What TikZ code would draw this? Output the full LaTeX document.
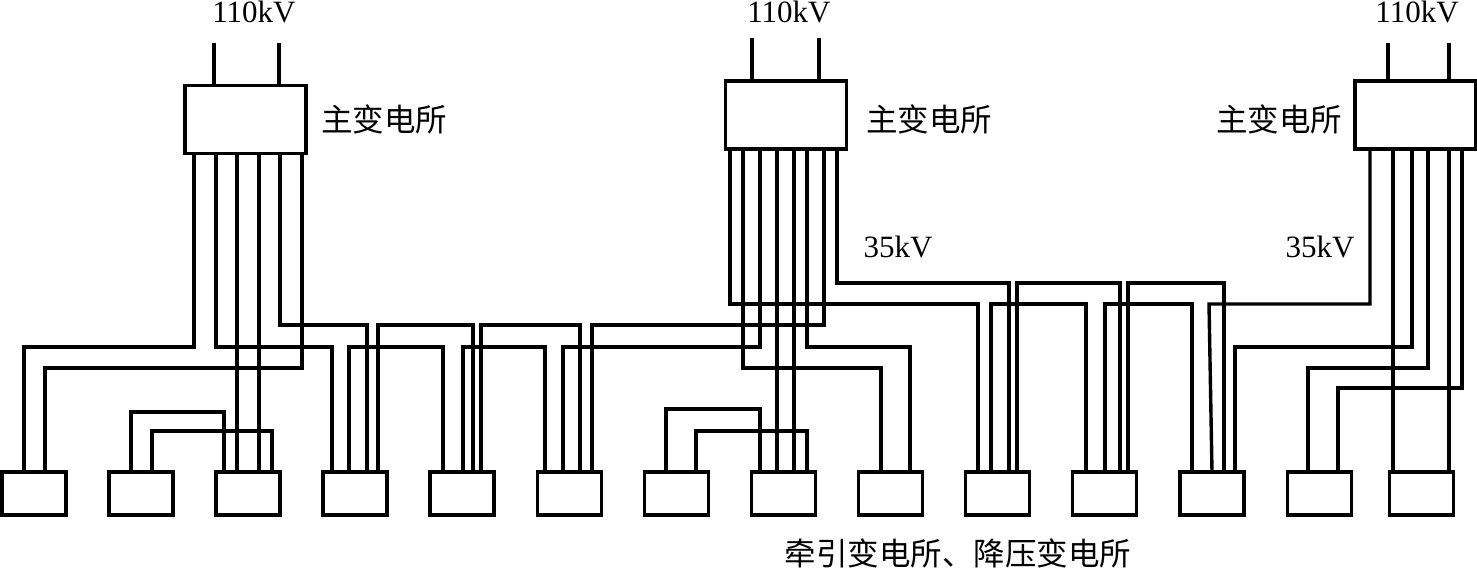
\documentclass[tikz,border=0pt]{standalone}
\usepackage{fontspec}
\setmainfont{Liberation Serif}
\newfontfamily\cjk{Noto Sans CJK SC}
\tikzset{
  wire/.style={draw=black,line width=3.4pt,line join=miter},
  subst/.style={draw=black,line width=3.4pt,inner sep=0pt,outer sep=0pt,minimum width=64pt,minimum height=43pt},
  mainst/.style={draw=black,line width=3.4pt,inner sep=0pt,outer sep=0pt,minimum width=121pt,minimum height=68pt},
  latin/.style={inner sep=0pt,font=\fontsize{31}{32}\selectfont},
  cjklabel/.style={inner sep=0pt,font=\cjk\fontsize{31.5}{32}\selectfont}
}
\begin{document}
\begin{tikzpicture}[x=1pt,y=-1pt]
\useasboundingbox (0,0) rectangle (1477,568);
\fill[white] (0,0) rectangle (1477,568);
% main substations
\node[mainst] (m1) at (245.5,119.5) {};
\node[mainst] (m2) at (786,115) {};
\node[mainst] (m3) at (1415.5,115) {};
% traction substations
\node[subst] (b1) at (34,493.5) {};
\node[subst] (b2) at (141,493.5) {};
\node[subst] (b3) at (248,493.5) {};
\node[subst] (b4) at (355,493.5) {};
\node[subst] (b5) at (462,493.5) {};
\node[subst] (b6) at (569.5,493.5) {};
\node[subst] (b7) at (676.5,493.5) {};
\node[subst] (b8) at (783.5,493.5) {};
\node[subst] (b9) at (890.5,493.5) {};
\node[subst] (b10) at (997.5,493.5) {};
\node[subst] (b11) at (1104.5,493.5) {};
\node[subst] (b12) at (1212,493.5) {};
\node[subst] (b13) at (1319.5,493.5) {};
\node[subst] (b14) at (1421.5,493.5) {};
% labels
\node[latin,anchor=base] (v1) at (254,22.5) {110kV};
\node[latin,anchor=base] (v2) at (789,22.5) {110kV};
\node[latin,anchor=base] (v3) at (1417,22.5) {110kV};
\node[latin] (k1) at (898,247) {35kV};
\node[latin] (k2) at (1320,247) {35kV};
\node[cjklabel] (t1) at (384,119) {主变电所};
\node[cjklabel] (t2) at (929,119) {主变电所};
\node[cjklabel] (t3) at (1279,119) {主变电所};
\node[cjklabel] (t4) at (958,553) {牵引变电所、降压变电所};
% incoming 110 kV lines
\coordinate (i1a) at (214,43); \coordinate (i1b) at (279,43);
\coordinate (i2a) at (752,38); \coordinate (i2b) at (819,38);
\coordinate (i3a) at (1388,43); \coordinate (i3b) at (1449,43);
\draw[wire] (i1a) -- (m1.north -| i1a);
\draw[wire] (i1b) -- (m1.north -| i1b);
\draw[wire] (i2a) -- (m2.north -| i2a);
\draw[wire] (i2b) -- (m2.north -| i2b);
\draw[wire] (i3a) -- (m3.north -| i3a);
\draw[wire] (i3b) -- (m3.north -| i3b);
% main substation 1
\draw[wire] (m1.south -| 194,0) -- (194,347) -- (24,347) -- (b1.north -| 24,0);
\draw[wire] (m1.south -| 216,0) -- (216,347) -- (332,347) -- (b4.north -| 332,0);
\draw[wire] (m1.south -| 237,0) -- (b3.north -| 237,0);
\draw[wire] (m1.south -| 259,0) -- (b3.north -| 259,0);
\draw[wire] (m1.south -| 280,0) -- (280,325) -- (367,325) -- (b4.north -| 367,0);
\draw[wire] (m1.south -| 302,0) -- (302,368) -- (45,368) -- (b1.north -| 45,0);
% between traction substations
\draw[wire] (b2.north -| 131,0) -- (131,412) -- (224,412) -- (b3.north -| 224,0);
\draw[wire] (b2.north -| 152,0) -- (152,431) -- (272,431) -- (b3.north -| 272,0);
\draw[wire] (b4.north -| 349,0) -- (349,347) -- (443,347) -- (b5.north -| 443,0);
\draw[wire] (b4.north -| 378,0) -- (378,325) -- (473,325) -- (b5.north -| 473,0);
\draw[wire] (b5.north -| 463,0) -- (463,347) -- (545,347) -- (b6.north -| 545,0);
\draw[wire] (b5.north -| 481,0) -- (481,325) -- (580,325) -- (b6.north -| 580,0);
\draw[wire] (b7.north -| 666,0) -- (666,409) -- (760,409) -- (b8.north -| 760,0);
\draw[wire] (b7.north -| 696,0) -- (696,431) -- (807,431) -- (b8.north -| 807,0);
% main substation 2
\draw[wire] (m2.south -| 730,0) -- (730,304) -- (978,304) -- (b10.north -| 978,0);
\draw[wire] (m2.south -| 743,0) -- (743,368) -- (881,368) -- (b9.north -| 881,0);
\draw[wire] (m2.south -| 760,0) -- (760,347) -- (563,347) -- (b6.north -| 563,0);
\draw[wire] (m2.south -| 777,0) -- (b8.north -| 777,0);
\draw[wire] (m2.south -| 794,0) -- (b8.north -| 794,0);
\draw[wire] (m2.south -| 807,0) -- (807,347) -- (910,347) -- (b9.north -| 910,0);
\draw[wire] (m2.south -| 824,0) -- (824,325) -- (592,325) -- (b6.north -| 592,0);
\draw[wire] (m2.south -| 837,0) -- (837,283) -- (1009,283) -- (b10.north -| 1009,0);
% right-hand chain
\draw[wire] (b10.north -| 991,0) -- (991,304) -- (1086,304) -- (b11.north -| 1086,0);
\draw[wire] (b10.north -| 1017,0) -- (1017,283) -- (1120,283) -- (b11.north -| 1120,0);
\draw[wire] (b11.north -| 1105,0) -- (1105,304) -- (1192,304) -- (b12.north -| 1192,0);
\draw[wire] (b11.north -| 1128,0) -- (1128,283) -- (1224,283) -- (b12.north -| 1224,0);
% main substation 3
\draw[wire] (b12.north -| 1212,0) -- (1209,304) -- (1370,304) -- (m3.south -| 1370,0);
\draw[wire] (b12.north -| 1235,0) -- (1235,347) -- (1412,347) -- (m3.south -| 1412,0);
\draw[wire] (b13.north -| 1308,0) -- (1308,368) -- (1428,368) -- (m3.south -| 1428,0);
\draw[wire] (b13.north -| 1338,0) -- (1338,388) -- (1462,388) -- (m3.south -| 1462,0);
\draw[wire] (b14.north -| 1393,0) -- (m3.south -| 1393,0);
\draw[wire] (b14.north -| 1449,0) -- (m3.south -| 1449,0);
\end{tikzpicture}
\end{document}
